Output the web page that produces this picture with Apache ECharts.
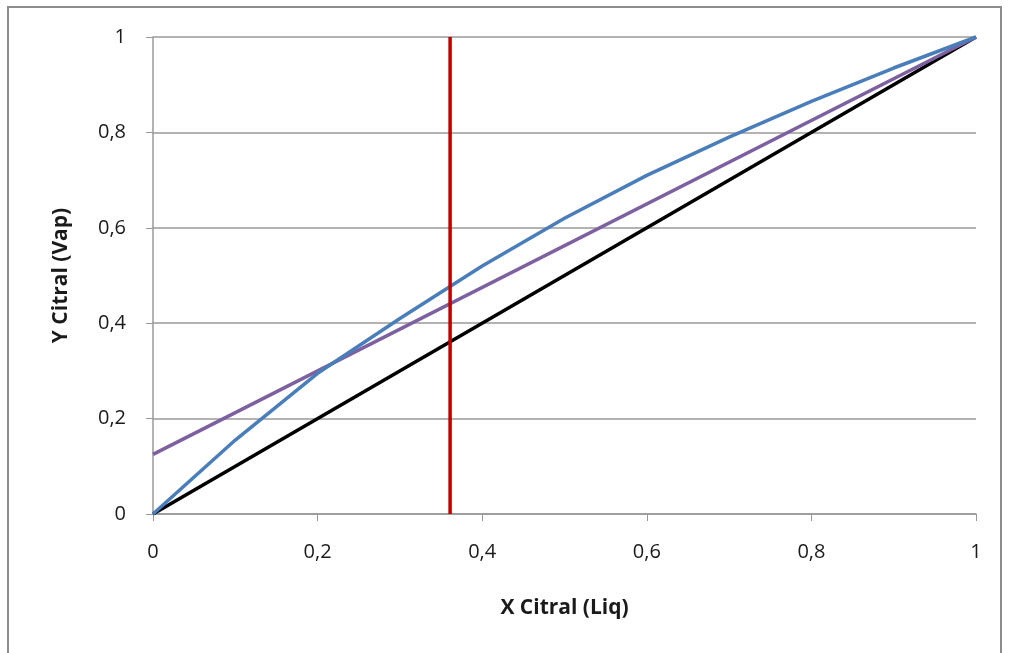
<!DOCTYPE html>
<html lang="es">
  <head>
    <meta charset="UTF-8" />
    <title>Citral</title>
    <script src="https://cdn.jsdelivr.net/npm/echarts@6/dist/echarts.min.js"></script>
    <style>
      html, body { margin: 0; padding: 0; background: #fff; }
      #main { width: 1009px; height: 653px; }
    </style>
  </head>
  <body>
    <div id="main"></div>
    <script>
      // curva de equilibrio
      var xEq = [0, 0.1, 0.2, 0.3, 0.4, 0.5, 0.6, 0.7, 0.8, 0.9, 1];
      var yEq = [0, 0.155, 0.295, 0.41, 0.52, 0.62, 0.71, 0.79, 0.865, 0.935, 1];
      // recta de operacion
      var xOp = [0, 1];
      var yOp = [0.125, 1];
      // diagonal y = x
      var xDiag = [0, 1];
      var yDiag = [0, 1];
      // alimentacion
      var xFeed = [0.361, 0.361];
      var yFeed = [0, 1];

      function pares(xs, ys) {
        return xs.map(function (x, i) { return [x, ys[i]]; });
      }
      function coma(v) {
        return String(+v.toFixed(1)).replace(".", ",");
      }

      var fuente = "'Open Sans', 'Liberation Sans', sans-serif";
      var myChart = echarts.init(document.getElementById("main"));
      var option = {
        animation: false,
        grid: { left: 153, top: 37, right: 33, bottom: 139 },
        graphic: [
          {
            type: "rect",
            shape: { x: 8, y: 7, width: 993, height: 670 },
            style: { fill: "none", stroke: "#8c8c8c", lineWidth: 2 },
            silent: true,
          },
        ],
        xAxis: {
          type: "value",
          min: 0,
          max: 1,
          interval: 0.2,
          name: "X Citral (Liq)",
          nameLocation: "middle",
          nameGap: 84,
          nameTextStyle: { fontFamily: fuente, fontSize: 21, fontWeight: "bold", color: "#1a1a1a" },
          axisLine: { lineStyle: { color: "#999", width: 1.5 } },
          axisTick: { show: true, length: 7, lineStyle: { color: "#999" } },
          splitLine: { show: false },
          axisLabel: { margin: 28, fontFamily: fuente, fontSize: 20, color: "#1a1a1a", formatter: coma },
        },
        yAxis: {
          type: "value",
          min: 0,
          max: 1,
          interval: 0.2,
          name: "Y Citral (Vap)",
          nameLocation: "middle",
          nameGap: 81,
          nameTextStyle: { fontFamily: fuente, fontSize: 21, fontWeight: "bold", color: "#1a1a1a" },
          axisLine: { show: true, lineStyle: { color: "#999", width: 1.5 } },
          axisTick: { show: true, length: 7, lineStyle: { color: "#999" } },
          splitLine: { show: true, lineStyle: { color: "#9a9a9a", width: 1.5 } },
          axisLabel: { margin: 27, fontFamily: fuente, fontSize: 20, color: "#1a1a1a", formatter: coma },
        },
        series: [
          {
            type: "line",
            data: pares(xDiag, yDiag),
            symbol: "none",
            lineStyle: { color: "#000", width: 3.5 },
          },
          {
            type: "line",
            data: pares(xOp, yOp),
            symbol: "none",
            lineStyle: { color: "#7d60a0", width: 3.5 },
          },
          {
            type: "line",
            data: pares(xEq, yEq),
            symbol: "none",
            lineStyle: { color: "#4a7ebb", width: 3.5 },
          },
          {
            type: "line",
            data: pares(xFeed, yFeed),
            symbol: "none",
            lineStyle: { color: "#c00000", width: 3.5 },
          },
        ],
      };
      myChart.setOption(option);
    </script>
  </body>
</html>
